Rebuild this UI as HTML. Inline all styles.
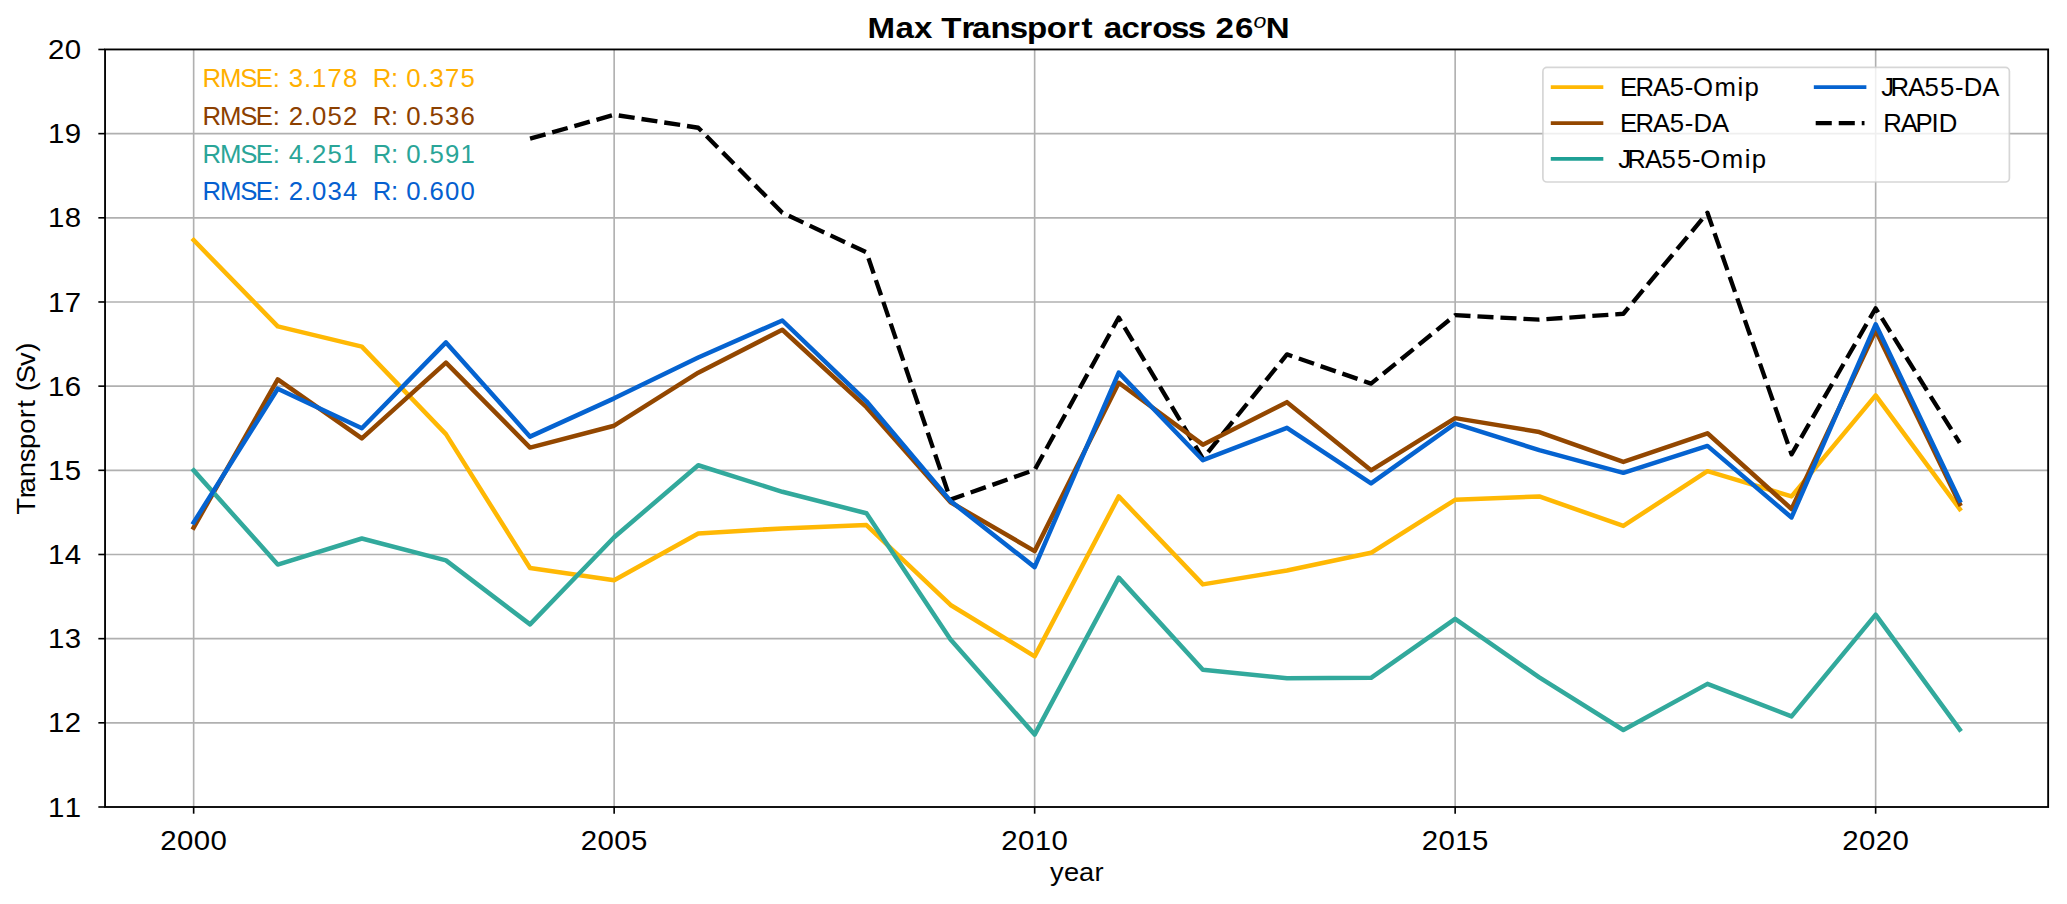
<!DOCTYPE html>
<html lang="en"><head><meta charset="utf-8"><title>Max Transport across 26N</title>
<style>html,body{margin:0;padding:0;background:#fff}body{width:2067px;height:904px;overflow:hidden}svg{display:block}text{font-family:"Liberation Sans",sans-serif;white-space:pre}</style></head><body>
<svg width="2067" height="904" viewBox="0 0 2067 904">
<rect x="0" y="0" width="2067" height="904" fill="#ffffff"/>
<g stroke="#b0b0b0" stroke-width="1.63" fill="none"><line x1="193.65" y1="49.45" x2="193.65" y2="807.00"/><line x1="614.15" y1="49.45" x2="614.15" y2="807.00"/><line x1="1034.65" y1="49.45" x2="1034.65" y2="807.00"/><line x1="1455.15" y1="49.45" x2="1455.15" y2="807.00"/><line x1="1875.65" y1="49.45" x2="1875.65" y2="807.00"/><line x1="105.05" y1="722.83" x2="2048.15" y2="722.83"/><line x1="105.05" y1="638.66" x2="2048.15" y2="638.66"/><line x1="105.05" y1="554.49" x2="2048.15" y2="554.49"/><line x1="105.05" y1="470.32" x2="2048.15" y2="470.32"/><line x1="105.05" y1="386.15" x2="2048.15" y2="386.15"/><line x1="105.05" y1="301.98" x2="2048.15" y2="301.98"/><line x1="105.05" y1="217.81" x2="2048.15" y2="217.81"/><line x1="105.05" y1="133.64" x2="2048.15" y2="133.64"/></g>
<polyline points="530.05,138.69 614.15,114.79 698.25,127.75 782.35,212.76 866.45,252.32 950.55,499.61 1034.65,469.90 1118.75,317.55 1202.85,458.54 1286.95,354.42 1371.05,383.62 1455.15,315.19 1539.25,319.66 1623.35,313.76 1707.45,212.76 1791.55,454.33 1875.65,308.29 1959.75,442.96" fill="none" stroke="#000" stroke-width="4.34" stroke-dasharray="16.07 6.95" stroke-linejoin="round" stroke-linecap="butt"/>
<polyline points="193.65,240.12 277.75,326.39 361.85,346.59 445.95,434.13 530.05,567.96 614.15,580.16 698.25,533.45 782.35,528.40 866.45,525.03 950.55,604.99 1034.65,656.34 1118.75,496.41 1202.85,584.37 1286.95,570.48 1371.05,552.81 1455.15,499.78 1539.25,496.41 1623.35,525.87 1707.45,471.16 1791.55,496.41 1875.65,395.41 1959.75,509.04" fill="none" stroke="#FFB804" stroke-width="4.50" stroke-linejoin="round" stroke-linecap="square"/>
<polyline points="193.65,527.56 277.75,379.42 361.85,438.34 445.95,362.58 530.05,447.59 614.15,425.71 698.25,372.68 782.35,329.76 866.45,407.19 950.55,502.30 1034.65,551.12 1118.75,382.78 1202.85,444.65 1286.95,402.14 1371.05,470.32 1455.15,418.13 1539.25,432.02 1623.35,461.90 1707.45,433.29 1791.55,509.04 1875.65,330.60 1959.75,503.99" fill="none" stroke="#934700" stroke-width="4.50" stroke-linejoin="round" stroke-linecap="square"/>
<polyline points="193.65,470.32 277.75,564.59 361.85,538.50 445.95,560.38 530.05,624.35 614.15,537.24 698.25,465.27 782.35,491.78 866.45,513.25 950.55,639.50 1034.65,734.61 1118.75,577.64 1202.85,669.80 1286.95,678.22 1371.05,677.80 1455.15,618.88 1539.25,677.38 1623.35,729.98 1707.45,683.86 1791.55,716.35 1875.65,614.67 1959.75,729.56" fill="none" stroke="#32A99C" stroke-width="4.50" stroke-linejoin="round" stroke-linecap="square"/>
<polyline points="193.65,522.51 277.75,388.68 361.85,428.24 445.95,342.38 530.05,436.65 614.15,398.35 698.25,357.53 782.35,320.50 866.45,401.30 950.55,501.04 1034.65,567.12 1118.75,372.68 1202.85,460.22 1286.95,427.81 1371.05,483.37 1455.15,423.61 1539.25,450.12 1623.35,472.85 1707.45,445.91 1791.55,517.46 1875.65,324.29 1959.75,500.62" fill="none" stroke="#0563D0" stroke-width="4.50" stroke-linejoin="round" stroke-linecap="square"/>
<rect x="105.05" y="49.45" width="1943.10" height="757.55" fill="none" stroke="#000" stroke-width="1.85"/>
<g stroke="#000" stroke-width="1.63"><line x1="193.65" y1="807.00" x2="193.65" y2="813.70"/><line x1="614.15" y1="807.00" x2="614.15" y2="813.70"/><line x1="1034.65" y1="807.00" x2="1034.65" y2="813.70"/><line x1="1455.15" y1="807.00" x2="1455.15" y2="813.70"/><line x1="1875.65" y1="807.00" x2="1875.65" y2="813.70"/><line x1="98.35" y1="807.00" x2="105.05" y2="807.00"/><line x1="98.35" y1="722.83" x2="105.05" y2="722.83"/><line x1="98.35" y1="638.66" x2="105.05" y2="638.66"/><line x1="98.35" y1="554.49" x2="105.05" y2="554.49"/><line x1="98.35" y1="470.32" x2="105.05" y2="470.32"/><line x1="98.35" y1="386.15" x2="105.05" y2="386.15"/><line x1="98.35" y1="301.98" x2="105.05" y2="301.98"/><line x1="98.35" y1="217.81" x2="105.05" y2="217.81"/><line x1="98.35" y1="133.64" x2="105.05" y2="133.64"/><line x1="98.35" y1="49.47" x2="105.05" y2="49.47"/></g>
<text transform="translate(160.18,850.00) scale(1.060,1)" x="0.18 15.96 31.75 47.53" y="0" fill="#000" style="font-size:27.75px;" xml:space="preserve">2000</text>
<text transform="translate(580.68,850.00) scale(1.060,1)" x="0.18 15.96 31.75 47.53" y="0" fill="#000" style="font-size:27.75px;" xml:space="preserve">2005</text>
<text transform="translate(1001.18,850.00) scale(1.060,1)" x="0.18 15.96 31.75 47.53" y="0" fill="#000" style="font-size:27.75px;" xml:space="preserve">2010</text>
<text transform="translate(1421.68,850.00) scale(1.060,1)" x="0.18 15.96 31.75 47.53" y="0" fill="#000" style="font-size:27.75px;" xml:space="preserve">2015</text>
<text transform="translate(1842.18,850.00) scale(1.060,1)" x="0.18 15.96 31.75 47.53" y="0" fill="#000" style="font-size:27.75px;" xml:space="preserve">2020</text>
<text transform="translate(47.83,816.55) scale(1.060,1)" x="0.18 15.96" y="0" fill="#000" style="font-size:27.75px;" xml:space="preserve">11</text>
<text transform="translate(47.83,732.38) scale(1.060,1)" x="0.18 15.96" y="0" fill="#000" style="font-size:27.75px;" xml:space="preserve">12</text>
<text transform="translate(47.83,648.21) scale(1.060,1)" x="0.18 15.96" y="0" fill="#000" style="font-size:27.75px;" xml:space="preserve">13</text>
<text transform="translate(47.83,564.04) scale(1.060,1)" x="0.18 15.96" y="0" fill="#000" style="font-size:27.75px;" xml:space="preserve">14</text>
<text transform="translate(47.83,479.87) scale(1.060,1)" x="0.18 15.96" y="0" fill="#000" style="font-size:27.75px;" xml:space="preserve">15</text>
<text transform="translate(47.83,395.70) scale(1.060,1)" x="0.18 15.96" y="0" fill="#000" style="font-size:27.75px;" xml:space="preserve">16</text>
<text transform="translate(47.83,311.53) scale(1.060,1)" x="0.18 15.96" y="0" fill="#000" style="font-size:27.75px;" xml:space="preserve">17</text>
<text transform="translate(47.83,227.36) scale(1.060,1)" x="0.18 15.96" y="0" fill="#000" style="font-size:27.75px;" xml:space="preserve">18</text>
<text transform="translate(47.83,143.19) scale(1.060,1)" x="0.18 15.96" y="0" fill="#000" style="font-size:27.75px;" xml:space="preserve">19</text>
<text transform="translate(47.83,59.02) scale(1.060,1)" x="0.18 15.96" y="0" fill="#000" style="font-size:27.75px;" xml:space="preserve">20</text>
<text transform="translate(1049.68,881.10) scale(1.060,1)" x="0.38 13.55 27.68 42.34" y="0" fill="#000" style="font-size:25.74px;" xml:space="preserve">year</text>
<g transform="translate(35.4,428.0) rotate(-90)"><text transform="translate(-85.61,0.00) scale(1.060,1)" x="-0.83 14.51 20.04 34.38 48.40 60.98 75.32 89.97 99.93 108.10 115.54 123.03 139.30 152.75" y="0" fill="#000" style="font-size:25.74px;" xml:space="preserve">Transport (Sv)</text></g>
<text transform="translate(867.30,38.20) scale(1.120,1)" fill="#000" style="font-size:29.54px;font-weight:bold" xml:space="preserve"><tspan x="0.14 25.10 41.60 58.12 66.08 84.05 93.43 109.96 127.11 142.69 160.22 178.25 191.22 202.36 211.04 226.88 242.92 254.40 271.24 286.12 302.02 310.96 328.35" y="0">Max Transport across 26</tspan><tspan x="344.87" y="-10.2" style="font-size:20.68px;font-style:italic;font-weight:normal">o</tspan><tspan x="355.78" y="0">N</tspan></text>
<text transform="translate(203.20,87.45) scale(1.000,1)" x="-0.82 16.76 37.17 52.62 69.45 77.43 85.49 100.71 108.77 124.30 139.82 155.04 162.80 169.44 187.74 194.98 203.04 218.26 226.32 241.84 257.37" y="0" fill="#FFAF00" style="font-size:25.74px;" xml:space="preserve">RMSE: 3.178  R: 0.375</text>
<text transform="translate(203.20,125.10) scale(1.000,1)" x="-0.82 16.76 37.17 52.62 69.45 77.43 85.49 100.71 108.77 124.30 139.82 155.04 162.80 169.44 187.74 194.98 203.04 218.26 226.32 241.84 257.37" y="0" fill="#8C4000" style="font-size:25.74px;" xml:space="preserve">RMSE: 2.052  R: 0.536</text>
<text transform="translate(203.20,162.75) scale(1.000,1)" x="-0.82 16.76 37.17 52.62 69.45 77.43 85.49 100.71 108.77 124.30 139.82 155.04 162.80 169.44 187.74 194.98 203.04 218.26 226.32 241.84 257.37" y="0" fill="#2AA598" style="font-size:25.74px;" xml:space="preserve">RMSE: 4.251  R: 0.591</text>
<text transform="translate(203.20,200.40) scale(1.000,1)" x="-0.82 16.76 37.17 52.62 69.45 77.43 85.49 100.71 108.77 124.30 139.82 155.04 162.80 169.44 187.74 194.98 203.04 218.26 226.32 241.84 257.37" y="0" fill="#0560D0" style="font-size:25.74px;" xml:space="preserve">RMSE: 2.034  R: 0.600</text>
<rect x="1542.90" y="67.30" width="466.50" height="114.70" rx="4.1" ry="4.1" fill="#fff" fill-opacity="0.8" stroke="#cccccc" stroke-opacity="0.8" stroke-width="1.70"/>
<line x1="1552.65" y1="87.20" x2="1601.45" y2="87.20" stroke="#FFB804" stroke-width="3.75" stroke-linecap="square"/>
<text transform="translate(1620.97,96.10) scale(1.000,1)" x="-0.88 14.60 32.13 48.68 63.71 71.99 93.45 116.59 123.42" y="0" fill="#000" style="font-size:25.74px;" xml:space="preserve">ERA5-Omip</text>
<line x1="1552.65" y1="123.05" x2="1601.45" y2="123.05" stroke="#934700" stroke-width="3.75" stroke-linecap="square"/>
<text transform="translate(1620.97,131.95) scale(1.000,1)" x="-0.88 14.60 32.13 48.68 63.71 72.50 90.95" y="0" fill="#000" style="font-size:25.74px;" xml:space="preserve">ERA5-DA</text>
<line x1="1552.65" y1="158.90" x2="1601.45" y2="158.90" stroke="#1FA095" stroke-width="3.75" stroke-linecap="square"/>
<text transform="translate(1620.97,167.80) scale(1.000,1)" x="-2.84 6.38 23.91 40.46 55.98 71.02 79.30 100.75 123.89 130.72" y="0" fill="#000" style="font-size:25.74px;" xml:space="preserve">JRA55-Omip</text>
<line x1="1815.70" y1="87.20" x2="1864.50" y2="87.20" stroke="#0563D0" stroke-width="3.75" stroke-linecap="square"/>
<text transform="translate(1884.02,96.10) scale(1.000,1)" x="-2.84 6.38 23.91 40.46 55.98 71.02 79.80 98.25" y="0" fill="#000" style="font-size:25.74px;" xml:space="preserve">JRA55-DA</text>
<line x1="1815.70" y1="123.05" x2="1864.50" y2="123.05" stroke="#000" stroke-width="4.34" stroke-dasharray="16.07 6.95"/>
<text transform="translate(1884.02,131.95) scale(1.000,1)" x="-0.82 16.71 31.43 47.39 54.67" y="0" fill="#000" style="font-size:25.74px;" xml:space="preserve">RAPID</text>
</svg></body></html>
